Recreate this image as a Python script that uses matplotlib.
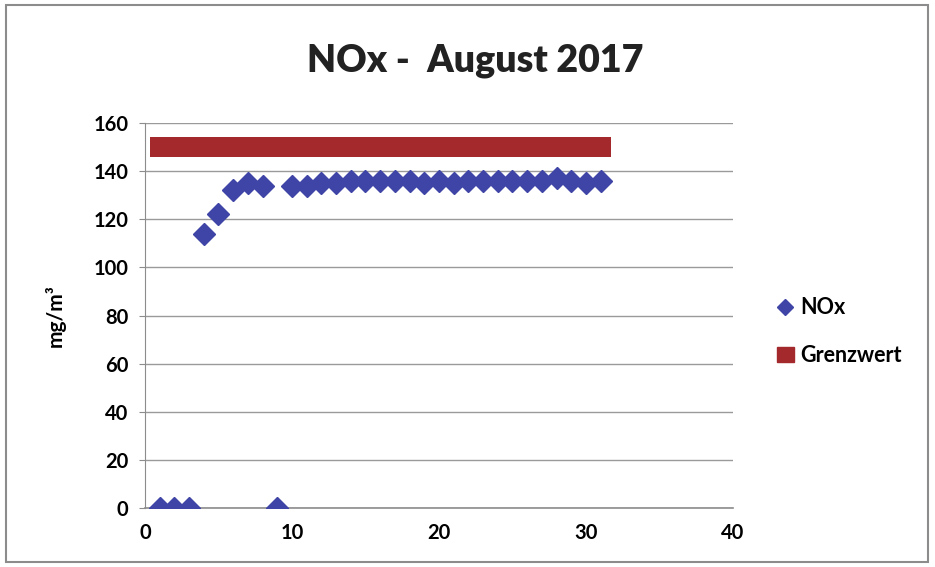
import matplotlib
matplotlib.use("agg")
import matplotlib.pyplot as plt
from matplotlib.lines import Line2D
from matplotlib.patches import Patch, Rectangle

plt.rcParams.update({"font.family": ["Lato", "DejaVu Sans"], "font.weight": "bold"})

# Daily NOx values, August 2017
days = list(range(1, 32))
nox = [0, 0, 0, 114, 122, 132, 135, 134, 0, 134,
       134, 135, 135, 136, 136, 136, 136, 136, 135, 136,
       135, 136, 136, 136, 136, 136, 136, 137, 136, 135, 136]
grenz_days = [1, 31]
grenz_values = [150, 150]

xticks = [0, 10, 20, 30, 40]
yticks = [0, 20, 40, 60, 80, 100, 120, 140, 160]

blue = "#3F45A6"
red = "#A3292D"

fig = plt.figure(figsize=(9.35, 5.67), dpi=100)
ax = fig.add_axes([0.155, 0.104, 0.629, 0.679])

# thin frame round the whole chart
fig.patches.append(Rectangle((6 / 935, 5 / 567), 922 / 935, 557 / 567,
                             transform=fig.transFigure, fill=False,
                             edgecolor="#8C8C8C", lw=1.5))

ax.plot(grenz_days, grenz_values, color=red, lw=14.4,
        solid_capstyle="projecting", zorder=2)
ax.plot(days, nox, linestyle="none", marker="D", ms=11,
        color=blue, mec=blue, zorder=3)

ax.set_xlim(0, 40)
ax.set_ylim(0, 160)
ax.set_xticks(xticks)
ax.set_yticks(yticks)
ax.tick_params(axis="y", length=4, color="#8C8C8C", labelsize=14.5, pad=8)
ax.tick_params(axis="x", length=0, labelsize=14.5, pad=11)
ax.grid(axis="y", color="#9A9A9A", lw=1)
ax.set_axisbelow(True)
for s in ["top", "right"]:
    ax.spines[s].set_visible(False)
ax.spines["left"].set_color("#8C8C8C")
ax.spines["bottom"].set_color("#8C8C8C")
ax.spines["bottom"].set_linewidth(1.2)

ax.set_ylabel("mg/m³", fontsize=15, fontweight="bold", labelpad=20)

fig.text(0.508, 0.893, "NOx -  August 2017", ha="center", va="center",
         fontsize=27, fontweight="heavy", color="#222222")

handles = [Line2D([], [], linestyle="none", marker="D", ms=8, color=blue),
           Patch(facecolor=red, edgecolor=red)]
fig.legend(handles, ["NOx", "Grenzwert"], loc="center left",
           bbox_to_anchor=(0.81, 0.415), frameon=False, fontsize=15.5,
           handlelength=0.8, handletextpad=0.3, labelspacing=1.25)

fig.savefig("out.png", dpi=100)
